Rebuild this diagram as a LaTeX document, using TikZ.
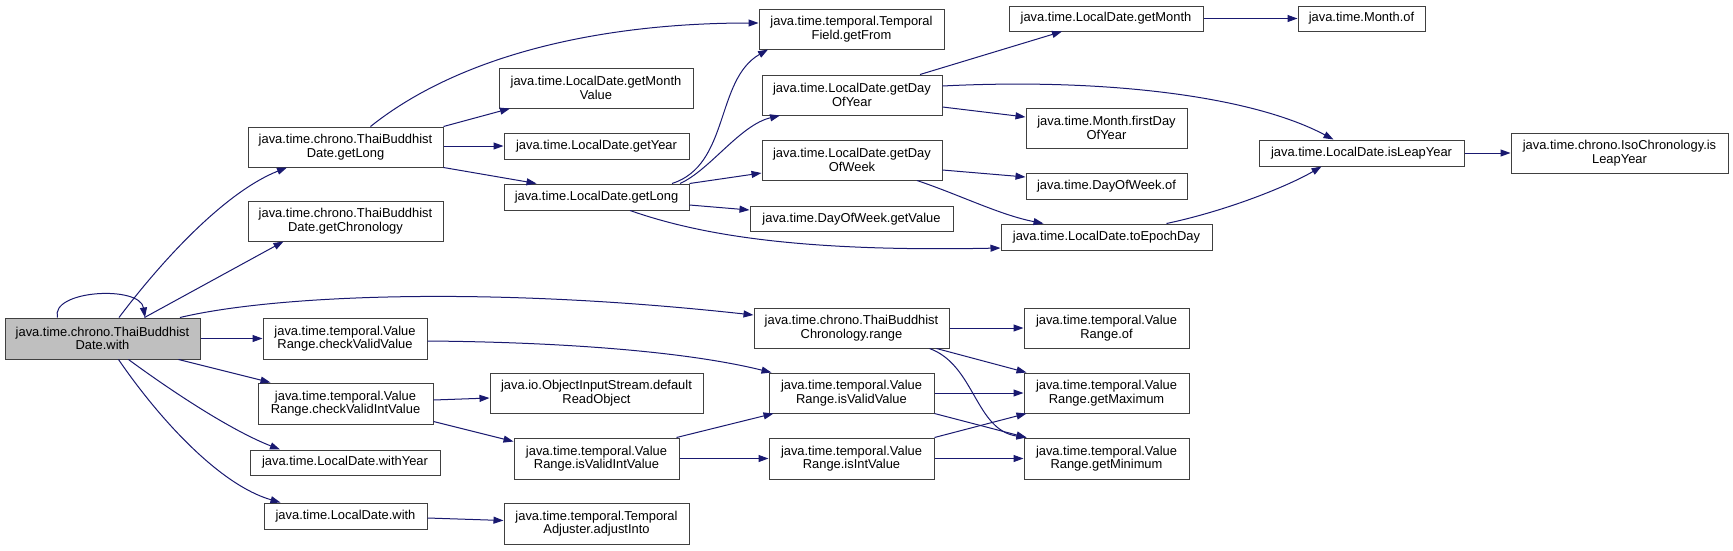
\documentclass[tikz,border=0pt]{standalone}
\usepackage{fontspec}
\setmainfont{Liberation Sans}
\usetikzlibrary{arrows.meta}
\definecolor{edgecol}{HTML}{191970}
\definecolor{mainfill}{HTML}{BFBFBF}
\begin{document}
\begin{tikzpicture}[x=1pt,y=-1pt,
  box/.style={draw=black!75, line width=1pt, fill=white, align=center, inner sep=0pt,
    font=\fontsize{12.9}{13.4}\selectfont, text=black},
  e/.style={draw=edgecol, line width=1pt, -{Triangle[length=10pt,width=7pt]}}]
\useasboundingbox (0,0) rectangle (1733,550);
\fill[white] (0,0) rectangle (1733,550);
% nodes
\node[box, fill=mainfill, minimum width=195pt, minimum height=41pt] (main) at (102.5,338.5) {java.time.chrono.ThaiBuddhist\\Date.with};
\node[box, minimum width=195pt, minimum height=40pt] (tgl) at (345.5,147) {java.time.chrono.ThaiBuddhist\\Date.getLong};
\node[box, minimum width=195pt, minimum height=40pt] (tgc) at (345.5,221) {java.time.chrono.ThaiBuddhist\\Date.getChronology};
\node[box, minimum width=164pt, minimum height=41pt] (cvv) at (345,338.5) {java.time.temporal.Value\\Range.checkValidValue};
\node[box, minimum width=175pt, minimum height=41pt] (cviv) at (345.5,403.5) {java.time.temporal.Value\\Range.checkValidIntValue};
\node[box, minimum width=190pt, minimum height=25pt] (wy) at (345,462.5) {java.time.LocalDate.withYear};
\node[box, minimum width=163pt, minimum height=26pt] (ldw) at (345.5,516) {java.time.LocalDate.with};
\node[box, minimum width=185pt, minimum height=40pt] (gf) at (851.5,29) {java.time.temporal.Temporal\\Field.getFrom};
\node[box, minimum width=194pt, minimum height=40pt] (gmv) at (596,88) {java.time.LocalDate.getMonth\\Value};
\node[box, minimum width=185pt, minimum height=26pt] (gy) at (596.5,146) {java.time.LocalDate.getYear};
\node[box, minimum width=185pt, minimum height=26pt] (lgl) at (596.5,197) {java.time.LocalDate.getLong};
\node[box, minimum width=180pt, minimum height=40pt] (gdoy) at (852,95) {java.time.LocalDate.getDay\\OfYear};
\node[box, minimum width=180pt, minimum height=40pt] (gdow) at (852,160) {java.time.LocalDate.getDay\\OfWeek};
\node[box, minimum width=203pt, minimum height=25pt] (dgv) at (851.5,219) {java.time.DayOfWeek.getValue};
\node[box, minimum width=195pt, minimum height=40pt] (rng) at (851.5,328) {java.time.chrono.ThaiBuddhist\\Chronology.range};
\node[box, minimum width=165pt, minimum height=40pt] (ivv) at (851.5,393) {java.time.temporal.Value\\Range.isValidValue};
\node[box, minimum width=213pt, minimum height=40pt] (dro) at (596.5,393) {java.io.ObjectInputStream.default\\ReadObject};
\node[box, minimum width=165pt, minimum height=41pt] (iviv) at (596.5,458.5) {java.time.temporal.Value\\Range.isValidIntValue};
\node[box, minimum width=165pt, minimum height=41pt] (iiv) at (851.5,458.5) {java.time.temporal.Value\\Range.isIntValue};
\node[box, minimum width=185pt, minimum height=41pt] (adj) at (596.5,523.5) {java.time.temporal.Temporal\\Adjuster.adjustInto};
\node[box, minimum width=194pt, minimum height=25pt] (gm) at (1106,18.5) {java.time.LocalDate.getMonth};
\node[box, minimum width=127pt, minimum height=25pt] (mof) at (1361.5,18.5) {java.time.Month.of};
\node[box, minimum width=161pt, minimum height=40pt] (fdoy) at (1106.5,128) {java.time.Month.firstDay\\OfYear};
\node[box, minimum width=161pt, minimum height=26pt] (dof) at (1106.5,186) {java.time.DayOfWeek.of};
\node[box, minimum width=211pt, minimum height=26pt] (ted) at (1106.5,237) {java.time.LocalDate.toEpochDay};
\node[box, minimum width=205pt, minimum height=26pt] (ily) at (1361.5,153) {java.time.LocalDate.isLeapYear};
\node[box, minimum width=217pt, minimum height=40pt] (iso) at (1619.5,153) {java.time.chrono.IsoChronology.is\\LeapYear};
\node[box, minimum width=165pt, minimum height=40pt] (vro) at (1106.5,328) {java.time.temporal.Value\\Range.of};
\node[box, minimum width=165pt, minimum height=40pt] (gmax) at (1106.5,393) {java.time.temporal.Value\\Range.getMaximum};
\node[box, minimum width=165pt, minimum height=41pt] (gmin) at (1106.5,458.5) {java.time.temporal.Value\\Range.getMinimum};
% edges from main
\draw[e] ([xshift=16.5]main.north) .. controls (170,250) and (230,190) .. ([xshift=-58.5]tgl.south);
\draw[e] ([xshift=42]main.north) -- ([xshift=-62]tgc.south);
\draw[e] ([xshift=-45]main.north) .. controls (50,290) and (140,285) .. ([xshift=42.5]main.north);
\draw[e] ([xshift=77.5]main.north) .. controls (270,296) and (480,285) .. ([yshift=13]rng.west);
\draw[e] (main.east) -- (cvv.west);
\draw[e] ([xshift=76]main.south) -- ([xshift=-75]cviv.north);
\draw[e] ([xshift=26]main.south) .. controls (170,390) and (230,430) .. ([xshift=-65]wy.north);
\draw[e] ([xshift=16]main.south) .. controls (160,420) and (220,485) .. ([xshift=-65]ldw.north);
% ThaiBuddhistDate.getLong
\draw[e] ([xshift=25]tgl.north) .. controls (460,55) and (600,23) .. ([yshift=6]gf.west);
\draw[e] (tgl.north east) -- ([xshift=-86]gmv.south);
\draw[e] ([yshift=1]tgl.east) -- (gy.west);
\draw[e] (tgl.south east) -- ([xshift=-60]lgl.north);
% LocalDate.getLong
\draw[e] ([xshift=75.5]lgl.north) .. controls (730,165) and (715,80) .. ([xshift=-83.5]gf.south);
\draw[e] ([xshift=83.5]lgl.north) .. controls (710,170) and (740,125) .. ([xshift=-72]gdoy.south);
\draw[e] (lgl.north east) -- ([yshift=-13]gdow.west);
\draw[e] ([yshift=-8]lgl.east) -- ([yshift=9]dgv.west);
\draw[e] ([xshift=33.5]lgl.south) .. controls (700,235) and (800,252) .. ([yshift=-11]ted.west);
% getDayOfYear
\draw[e] ([xshift=68]gdoy.north) -- ([xshift=-44]gm.south);
\draw[e] ([yshift=9]gdoy.east) .. controls (1100,78) and (1250,95) .. ([xshift=-28]ily.north);
\draw[e] ([yshift=-12]gdoy.east) -- ([yshift=11]fdoy.west);
% getDayOfWeek
\draw[e] ([yshift=-10]gdow.east) -- ([yshift=9]dof.west);
\draw[e] ([xshift=65]gdow.south) .. controls (960,195) and (1000,215) .. ([xshift=-63]ted.north);
% others
\draw[e] (gm.east) -- (mof.west);
\draw[e] ([xshift=60]ted.north) .. controls (1230,210) and (1290,185) .. ([xshift=-40]ily.south);
\draw[e] (ily.east) -- (iso.west);
\draw[e] ([yshift=-2.5]cvv.east) .. controls (550,342) and (680,350) .. ([xshift=-80]ivv.north);
\draw[e] ([yshift=3.5]cviv.east) -- ([yshift=-5]dro.west);
\draw[e] ([yshift=-18]cviv.east) -- ([yshift=17]iviv.west);
\draw[e] ([xshift=80]iviv.north) -- ([xshift=-78]ivv.south);
\draw[e] (iviv.east) -- (iiv.west);
\draw[e] ([yshift=-2]ldw.east) -- ([yshift=3]adj.west);
\draw[e] (rng.east) -- (vro.west);
\draw[e] ([xshift=85]rng.south) -- ([xshift=-80]gmax.north);
\draw[e] ([xshift=78]rng.south) .. controls (975,365) and (975,430) .. ([xshift=-80]gmin.north);
\draw[e] (ivv.east) -- (gmax.west);
\draw[e] (ivv.south east) -- ([xshift=-80]gmin.north);
\draw[e] (iiv.north east) -- ([xshift=-80]gmax.south);
\draw[e] (iiv.east) -- (gmin.west);
\end{tikzpicture}
\end{document}
